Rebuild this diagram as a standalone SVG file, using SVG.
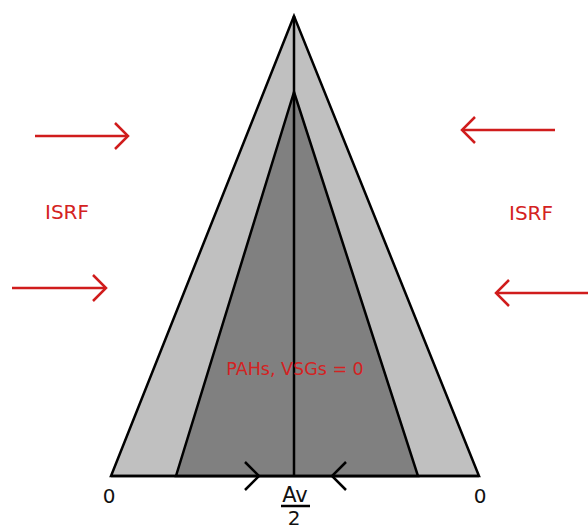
<svg xmlns="http://www.w3.org/2000/svg" width="588" height="529" viewBox="0 0 588 529">
<style>
.shape{stroke:#000;stroke-width:2.5;stroke-linejoin:miter}
.ln{stroke:#000;stroke-width:2.5;fill:none}
.red{stroke:#d01c1c;stroke-width:2.5;fill:none}
.rt{fill:#d42222;font-family:"DejaVu Sans",sans-serif;font-size:20px;text-anchor:middle}
.bt{fill:#111;font-family:"DejaVu Sans",sans-serif;font-size:20px;text-anchor:middle}
</style>
<rect width="588" height="529" fill="#fff"/>
<g id="outer"><polygon class="shape" fill="#c0c0c0" points="294,16 111,476 479,476"/></g>
<g id="inner"><polygon class="shape" fill="#808080" points="294,92 176,476 418,476"/></g>
<g id="axis"><line class="ln" x1="294" y1="16" x2="294" y2="476"/><line class="ln" x1="111" y1="476" x2="479" y2="476"/></g>
<g id="connectors">
<polyline class="ln" points="245,462 259,476 245,490"/>
<polyline class="ln" points="346,462 332,476 346,490"/>
<g class="red">
<line x1="35" y1="136" x2="128" y2="136"/><polyline points="115,123 128,136 115,149"/>
<line x1="12" y1="288" x2="106" y2="288"/><polyline points="93,275 106,288 93,301"/>
<line x1="555" y1="130" x2="462" y2="130"/><polyline points="475,117 462,130 475,143"/>
<line x1="588" y1="293" x2="496" y2="293"/><polyline points="509,280 496,293 509,306"/>
</g>
</g>
<g id="isrf-left"><text class="rt" x="67" y="219">ISRF</text></g>
<g id="isrf-right"><text class="rt" x="531" y="220">ISRF</text></g>
<g id="pahs"><text class="rt" x="295" y="375" style="font-size:17.5px">PAHs, VSGs = 0</text></g>
<g id="zero-left"><text class="bt" x="109" y="503">0</text></g>
<g id="zero-right"><text class="bt" x="480" y="503">0</text></g>
<g id="av2"><text class="bt" x="295" y="502" style="font-size:21px">Av</text><line class="ln" x1="281" y1="506" x2="310" y2="506"/><text class="bt" x="294" y="525" style="font-size:20px">2</text></g>
</svg>
